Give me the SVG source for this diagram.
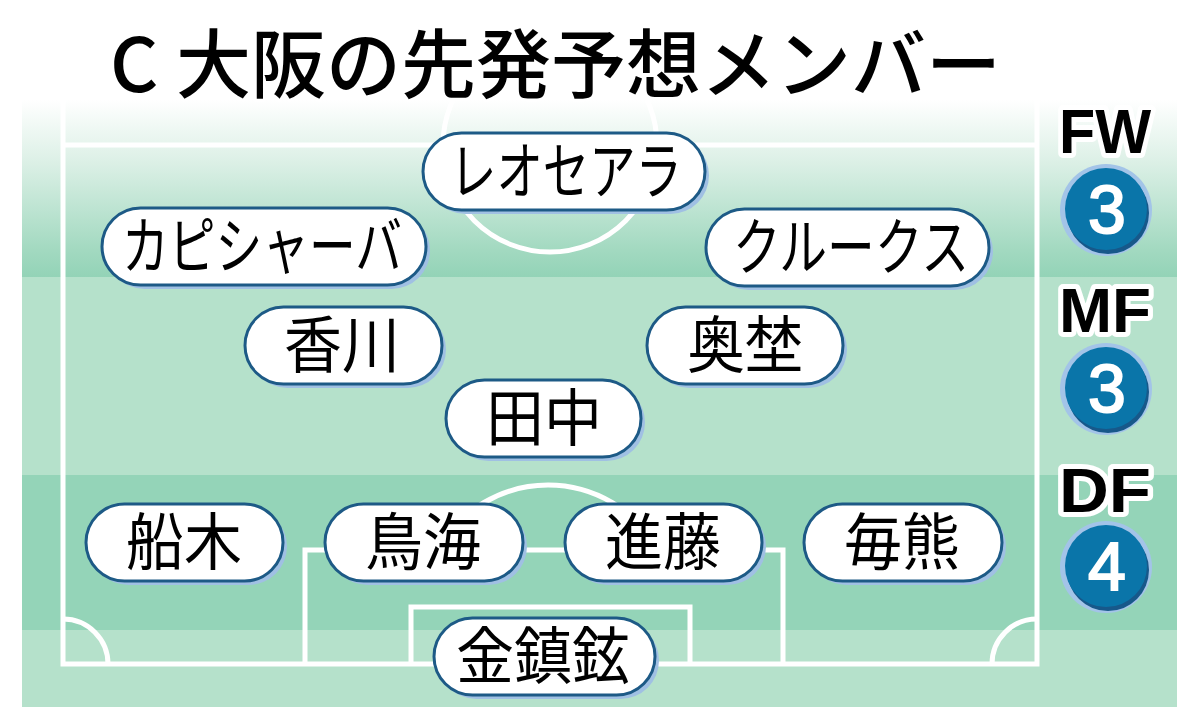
<svg xmlns="http://www.w3.org/2000/svg" width="1200" height="725" viewBox="0 0 1200 725">
  <defs>
    <linearGradient id="topBand" x1="0" y1="100" x2="0" y2="277" gradientUnits="userSpaceOnUse">
      <stop offset="0" stop-color="#ffffff"/>
      <stop offset="0.35" stop-color="#dcf0e6"/>
      <stop offset="0.85" stop-color="#a2d9c0"/>
      <stop offset="1" stop-color="#93d3b7"/>
    </linearGradient>
    <clipPath id="fieldClip">
      <rect x="22" y="100" width="1155" height="607"/>
    </clipPath>
  </defs>
  <style>
    .line { fill: none; stroke: #ffffff; stroke-width: 5; }
    .pill { fill: #ffffff; stroke: #1d5a86; stroke-width: 3; }
    .shadow { fill: #a0c0e3; }
    .name { font-family: "Noto Sans CJK JP", "Noto Sans", sans-serif; font-size: 62px; fill: #000000; text-anchor: middle; }
    .title { font-family: "Noto Sans CJK JP", "Noto Sans", sans-serif; font-size: 75px; font-weight: 500; fill: #000000; stroke: #ffffff; stroke-width: 6; paint-order: stroke; stroke-linejoin: round; }
    .pos { font-family: "Liberation Sans", Arial, sans-serif; font-size: 63px; font-weight: 700; fill: #000000; stroke: #ffffff; stroke-width: 10; paint-order: stroke; stroke-linejoin: round; text-anchor: middle; }
    .ring { fill: #a3c4e8; }
    .dark { fill: #17588a; }
    .disc { fill: #0a75a9; }
    .num { font-family: "Liberation Sans", Arial, sans-serif; font-size: 68px; fill: #ffffff; stroke: #ffffff; stroke-width: 2; text-anchor: middle; }
  </style>

  <rect x="0" y="0" width="1200" height="725" fill="#ffffff"/>

  <g id="field">
    <rect x="22" y="100" width="1155" height="177" fill="url(#topBand)"/>
    <rect x="22" y="277" width="1155" height="198" fill="#b5e1cb"/>
    <rect x="22" y="475" width="1155" height="155" fill="#94d4b8"/>
    <rect x="22" y="630" width="1155" height="77" fill="#b5e1cb"/>
  </g>

  <g id="connectors" clip-path="url(#fieldClip)">
    <path class="line" d="M63 100 V664 H1037 V100"/>
    <path class="line" d="M63 145 H1037"/>
    <circle class="line" cx="550" cy="145" r="107"/>
    <path class="line" d="M305 664 V550 H783 V664"/>
    <path class="line" d="M411 664 V607 H690 V664"/>
    <path class="line" d="M437.8 550 A126 126 0 0 1 658.2 550"/>
    <path class="line" d="M63 619 A45 45 0 0 1 108 664"/>
    <path class="line" d="M992 664 A45 45 0 0 1 1037 619"/>
  </g>

  <text id="title" class="title" y="92"><tspan x="110">C</tspan><tspan x="176">大阪の先発予想メンバー</tspan></text>

  <g id="node-leoceara">
    <rect class="shadow" x="427" y="137" width="282" height="77" rx="38.5"/>
    <rect class="pill" x="423" y="133" width="282" height="77" rx="38.5"/>
    <text class="name" x="566" y="194" textLength="232" lengthAdjust="spacingAndGlyphs">レオセアラ</text>
  </g>
  <g id="node-capixaba">
    <rect class="shadow" x="106" y="212" width="324" height="77" rx="38.5"/>
    <rect class="pill" x="102" y="208" width="324" height="77" rx="38.5"/>
    <text class="name" x="262" y="269" textLength="280" lengthAdjust="spacingAndGlyphs">カピシャーバ</text>
  </g>
  <g id="node-kruks">
    <rect class="shadow" x="710" y="213" width="283" height="77" rx="38.5"/>
    <rect class="pill" x="706" y="209" width="283" height="77" rx="38.5"/>
    <text class="name" x="851" y="270" textLength="236" lengthAdjust="spacingAndGlyphs">クルークス</text>
  </g>
  <g id="node-kagawa">
    <rect class="shadow" x="249" y="311" width="197" height="77" rx="38.5"/>
    <rect class="pill" x="245" y="307" width="197" height="77" rx="38.5"/>
    <text class="name" x="342" y="368" textLength="116" lengthAdjust="spacingAndGlyphs">香川</text>
  </g>
  <g id="node-okuno">
    <rect class="shadow" x="651" y="311" width="196" height="77" rx="38.5"/>
    <rect class="pill" x="647" y="307" width="196" height="77" rx="38.5"/>
    <text class="name" x="745" y="368" textLength="116" lengthAdjust="spacingAndGlyphs">奥埜</text>
  </g>
  <g id="node-tanaka">
    <rect class="shadow" x="450" y="384" width="195" height="77" rx="38.5"/>
    <rect class="pill" x="446" y="380" width="195" height="77" rx="38.5"/>
    <text class="name" x="544" y="441" textLength="116" lengthAdjust="spacingAndGlyphs">田中</text>
  </g>
  <g id="node-funaki">
    <rect class="shadow" x="90" y="508" width="197" height="77" rx="38.5"/>
    <rect class="pill" x="86" y="504" width="197" height="77" rx="38.5"/>
    <text class="name" x="184" y="565" textLength="116" lengthAdjust="spacingAndGlyphs">船木</text>
  </g>
  <g id="node-tokumi">
    <rect class="shadow" x="329" y="508" width="198" height="77" rx="38.5"/>
    <rect class="pill" x="325" y="504" width="198" height="77" rx="38.5"/>
    <text class="name" x="423" y="565" textLength="116" lengthAdjust="spacingAndGlyphs">鳥海</text>
  </g>
  <g id="node-shindo">
    <rect class="shadow" x="569" y="508" width="197" height="77" rx="38.5"/>
    <rect class="pill" x="565" y="504" width="197" height="77" rx="38.5"/>
    <text class="name" x="663" y="565" textLength="116" lengthAdjust="spacingAndGlyphs">進藤</text>
  </g>
  <g id="node-maikuma">
    <rect class="shadow" x="808" y="508" width="198" height="77" rx="38.5"/>
    <rect class="pill" x="804" y="504" width="198" height="77" rx="38.5"/>
    <text class="name" x="902" y="565" textLength="116" lengthAdjust="spacingAndGlyphs">毎熊</text>
  </g>
  <g id="node-kimjinhyeon">
    <rect class="shadow" x="438" y="622" width="221" height="77" rx="38.5"/>
    <rect class="pill" x="434" y="618" width="221" height="77" rx="38.5"/>
    <text class="name" x="543" y="679" textLength="174" lengthAdjust="spacingAndGlyphs">金鎮鉉</text>
  </g>

  <g id="count-fw">
    <text class="pos" x="1105" y="153" textLength="92" lengthAdjust="spacingAndGlyphs">FW</text>
    <circle class="ring" cx="1106" cy="210" r="46"/>
    <circle class="dark" cx="1108" cy="213" r="41"/>
    <circle class="disc" cx="1106" cy="209" r="41"/>
    <text class="num" x="1107" y="233">3</text>
  </g>
  <g id="count-mf">
    <text class="pos" x="1105" y="332" textLength="92" lengthAdjust="spacingAndGlyphs">MF</text>
    <circle class="ring" cx="1106" cy="389" r="46"/>
    <circle class="dark" cx="1108" cy="392" r="41"/>
    <circle class="disc" cx="1106" cy="388" r="41"/>
    <text class="num" x="1107" y="412">3</text>
  </g>
  <g id="count-df">
    <text class="pos" x="1105" y="512" textLength="92" lengthAdjust="spacingAndGlyphs">DF</text>
    <circle class="ring" cx="1106" cy="567" r="46"/>
    <circle class="dark" cx="1108" cy="570" r="41"/>
    <circle class="disc" cx="1106" cy="566" r="41"/>
    <text class="num" x="1107" y="590">4</text>
  </g>
</svg>
